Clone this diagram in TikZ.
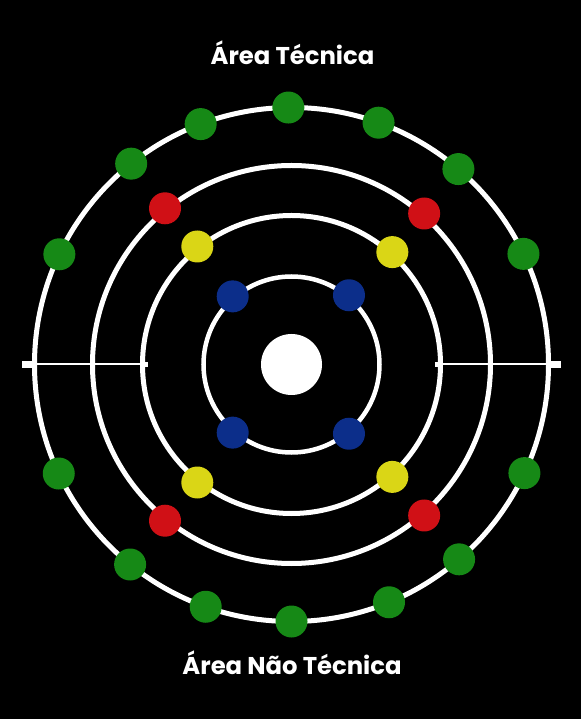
\documentclass[tikz,border=0pt]{standalone}
\usepackage{fontspec}
\setmainfont{Poppins}
\usetikzlibrary{positioning}
\definecolor{dotgreen}{RGB}{22,137,22}
\definecolor{dotred}{RGB}{208,16,22}
\definecolor{dotyellow}{RGB}{218,214,22}
\definecolor{dotblue}{RGB}{12,46,138}
\begin{document}
\begin{tikzpicture}[
  x=1pt,y=1pt,
  ring/.style={draw=white,line width=5pt},
  dot/.style={circle,inner sep=0pt,minimum size=32pt},
  endcap/.style={fill=white,inner sep=0pt,minimum width=10pt,minimum height=7pt},
  smallcap/.style={fill=white,inner sep=0pt,minimum width=6pt,minimum height=5pt},
  axis/.style={draw=white,line width=2pt},
  title/.style={text=white,font=\bfseries\fontsize{24.3}{29}\selectfont,anchor=base}
]
\fill[black] (-291.5,-354.5) rectangle (289.5,364.5);
\draw[ring] (0,0) circle[radius=257pt];
\draw[ring] (0,0) circle[radius=199pt];
\draw[ring] (0,0) circle[radius=149pt];
\draw[ring,line width=4.5pt] (0,0) circle[radius=88pt];
\node[endcap] (leftout) at (-264,0) {};
\node[smallcap] (leftin) at (-146.5,0) {};
\node[smallcap] (rightin) at (146.5,0) {};
\node[endcap] (rightout) at (264,0) {};
\draw[axis] (leftout.center) -- (leftin.center);
\draw[axis] (rightin.center) -- (rightout.center);
\foreach \a [count=\i] in {90.7,110.7,70.2,128.6,49.5,154.6,25.5,205.1,335,231.1,310.7,250.5,270,292.3}
  \node[dot,fill=dotgreen] (g\i) at (\a:257) {};
\foreach \a [count=\i] in {129,48.7,231,311.3}
  \node[dot,fill=dotred] (r\i) at (\a:201) {};
\foreach \a [count=\i] in {128.6,48.1,231.4,311.9}
  \node[dot,fill=dotyellow] (y\i) at (\a:151) {};
\foreach \a [count=\i] in {130.8,50.3,229.2,309.7}
  \node[dot,fill=dotblue] (b\i) at (\a:90) {};
\node[circle,fill=white,inner sep=0pt,minimum size=61pt] (core) at (0,0) {};
\node[title] (top) at (1,299.5) {Área Técnica};
\node[title] (bottom) at (0.5,-309.5) {Área Não Técnica};
\end{tikzpicture}
\end{document}
